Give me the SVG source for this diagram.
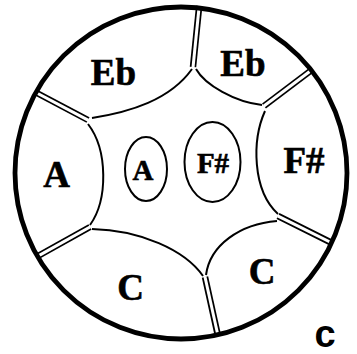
<svg xmlns="http://www.w3.org/2000/svg" width="357" height="354" viewBox="0 0 357 354">
<style>
.outer{fill:none;stroke:#000;stroke-width:4.8}
.curve{fill:none;stroke:#000;stroke-width:2}
.dv-b{fill:none;stroke:#000;stroke-width:6.5;stroke-linecap:butt}
.dv-w{fill:none;stroke:#fff;stroke-width:3;stroke-linecap:butt}
.lbl{font-family:"Liberation Serif","Times New Roman",serif;font-weight:bold;font-size:37px;text-anchor:middle;fill:#000;stroke:#000;stroke-width:0.6}
.sm{font-size:29px}
.tag{font-family:"Liberation Sans",Arial,sans-serif;font-weight:bold;font-size:38px;text-anchor:middle;fill:#000}
</style>
<rect width="357" height="354" fill="#fff"/>
<g id="connectors">
  <g id="dividers">
    <path class="dv-b" d="M35,92 L88,120"/><path class="dv-w" d="M34,91.5 L88.5,120.3"/>
    <path class="dv-b" d="M199.2,6 L193,67"/><path class="dv-w" d="M199.3,5 L193,67.5"/>
    <path class="dv-b" d="M311,70.5 L264,106"/><path class="dv-w" d="M312,69.7 L263.6,106.3"/>
    <path class="dv-b" d="M278,216 L332,243"/><path class="dv-w" d="M277.6,215.8 L333,243.5"/>
    <path class="dv-b" d="M205,277 L218,336"/><path class="dv-w" d="M204.9,276.5 L218.3,337"/>
    <path class="dv-b" d="M90,227 L38,256"/><path class="dv-w" d="M90.4,226.8 L37,256.6"/>
  </g>
  <g id="curves">
    <path class="curve" d="M92,118 C130,112 170,100 192,69"/>
    <path class="curve" d="M196,69 C205,85 235,102 262,105"/>
    <path class="curve" d="M265,111 C252,140 252,190 278,214"/>
    <path class="curve" d="M277,221 C240,224 210,245 206,275"/>
    <path class="curve" d="M92,229 C140,230 185,250 203,276"/>
    <path class="curve" d="M88,124 C108,150 108,200 90,225"/>
  </g>
</g>
<g id="outer-circle"><circle class="outer" cx="181" cy="173" r="166"/></g>
<g id="node-eb-left"><text class="lbl" x="113.5" y="85">Eb</text></g>
<g id="node-eb-right"><text class="lbl" x="243" y="76">Eb</text></g>
<g id="node-a-left"><text class="lbl" x="56.5" y="187">A</text></g>
<g id="node-fs-right"><text class="lbl" x="304" y="173">F#</text></g>
<g id="node-c-left"><text class="lbl" x="130.5" y="300">C</text></g>
<g id="node-c-right"><text class="lbl" x="262" y="284">C</text></g>
<g id="node-a-inner">
  <ellipse class="curve" cx="146" cy="169" rx="21" ry="32"/>
  <text class="lbl sm" x="143" y="180">A</text>
</g>
<g id="node-fs-inner">
  <ellipse class="curve" cx="212.5" cy="162" rx="28" ry="40"/>
  <text class="lbl sm" x="213" y="173">F#</text>
</g>
<g id="tag"><text class="tag" x="325" y="347">c</text></g>
</svg>
